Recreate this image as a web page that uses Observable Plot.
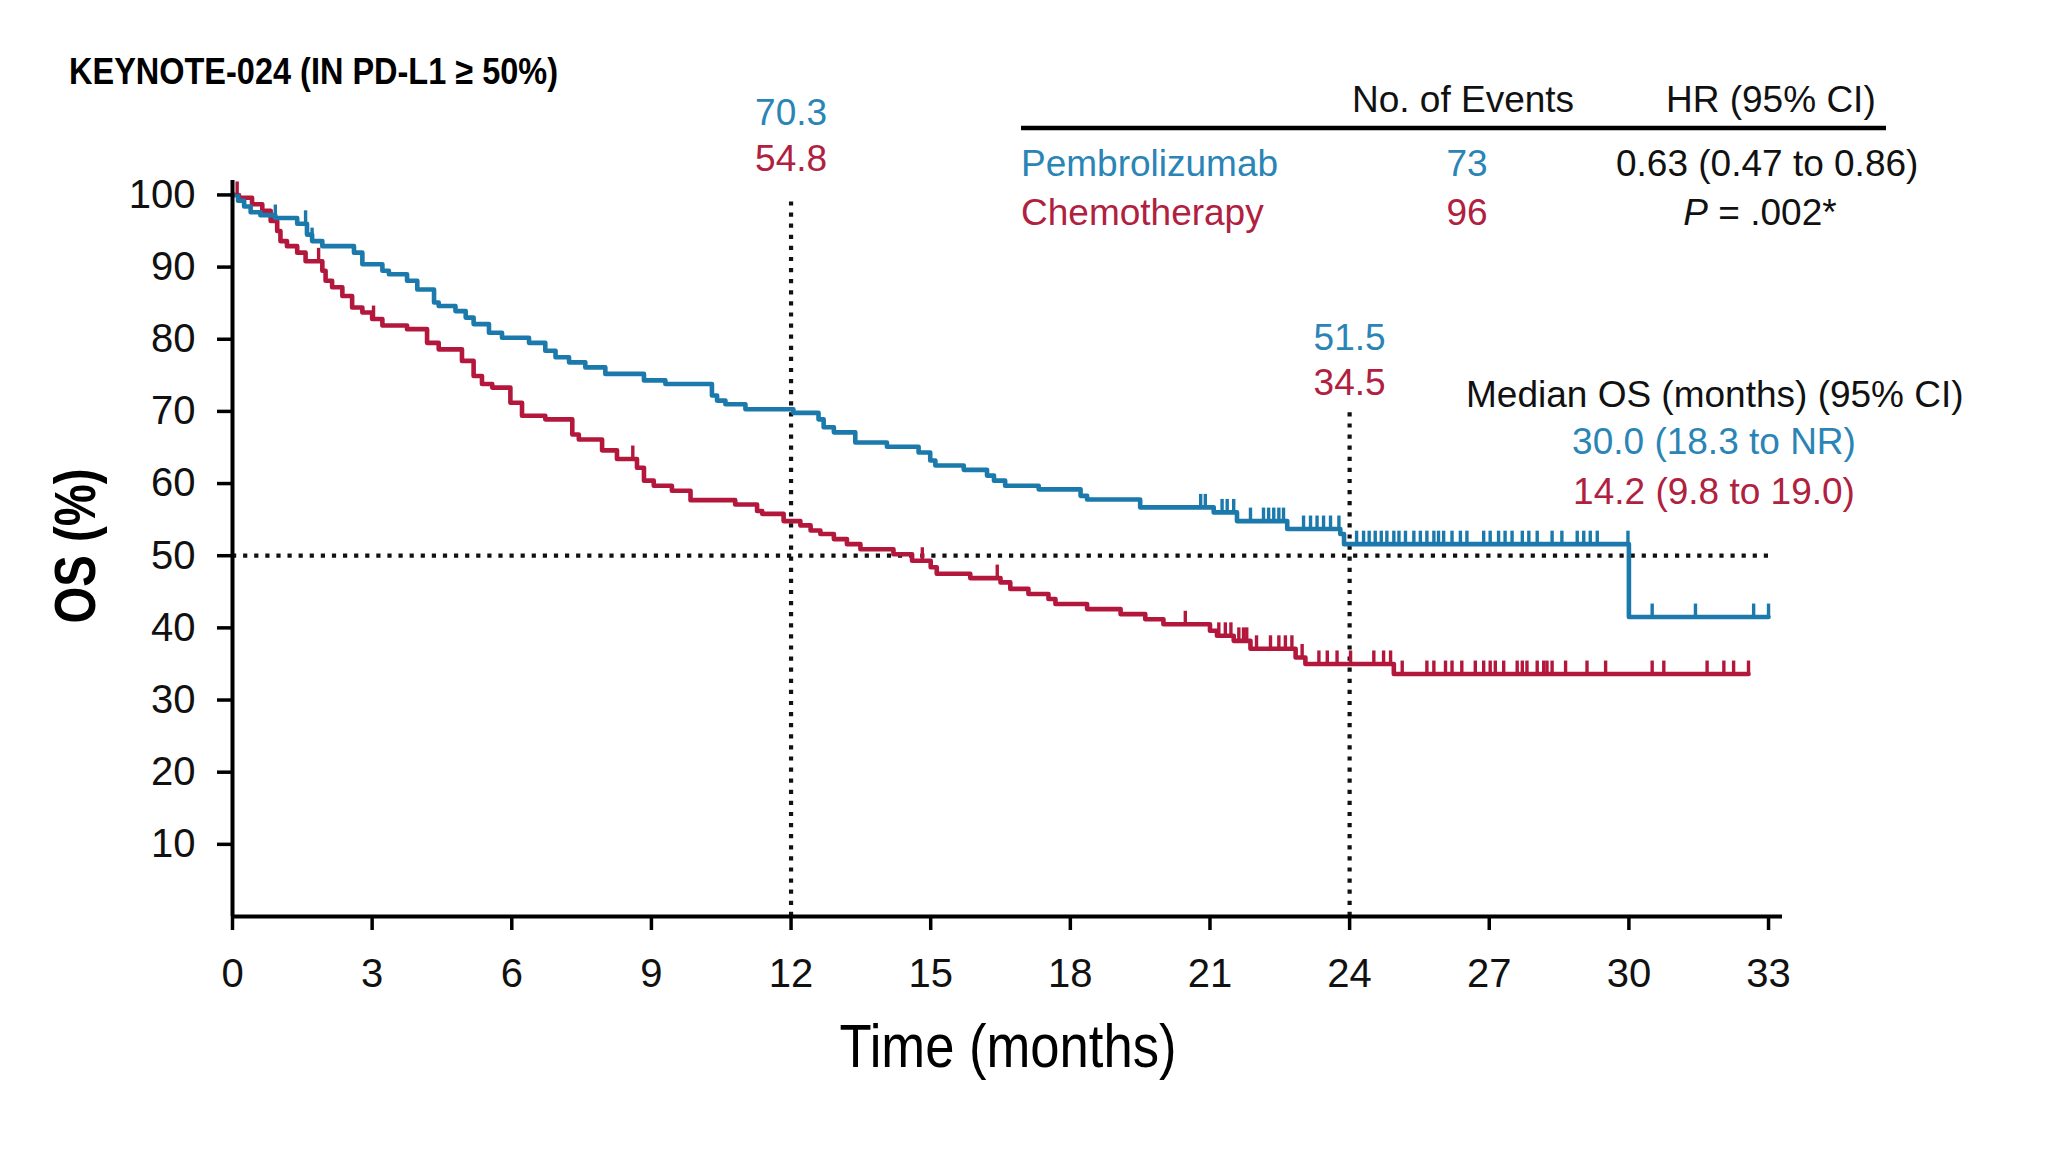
<!DOCTYPE html>
<html><head><meta charset="utf-8">
<script src="https://cdn.jsdelivr.net/npm/d3@7"></script>
<script src="https://cdn.jsdelivr.net/npm/@observablehq/plot@0.6"></script>
<style>
html,body{margin:0;padding:0;background:#fff;}
#wrap{position:relative;width:2048px;height:1152px;overflow:hidden;background:#fff;}
#wrap svg{position:absolute;left:0;top:0;}
</style></head><body><div id="wrap"></div>
<script>
// ---- data ----
const pembroTime = [0,0.12,0.25,0.39,0.6,0.92,1.39,1.60,1.71,1.93,2.61,2.79,3.22,3.36,3.75,3.97,4.33,4.43,4.79,5.01,5.18,5.51,5.79,6.37,6.72,6.94,7.23,7.58,8.01,8.84,9.30,10.30,10.41,10.59,11.02,12.05,12.59,12.70,12.92,13.38,14.06,14.74,14.99,15.10,15.71,16.21,16.36,16.60,17.32,18.22,18.36,19.50,21.08,21.58,22.66,23.80,23.88,30.0,33.0];
const pembroSurv = [100,99.2,98.4,97.6,97.2,96.8,96.0,94.5,93.6,92.9,92.0,90.4,89.5,89.0,88.1,86.9,85.1,84.6,83.9,83.0,82.1,80.9,80.2,79.5,78.4,77.5,76.8,76.1,75.2,74.3,73.8,72.2,71.5,71.0,70.3,69.8,68.9,67.8,67.1,65.7,65.1,64.3,63.2,62.5,61.9,61.1,60.4,59.7,59.2,58.3,57.8,56.7,56.0,54.8,53.7,53.0,51.6,41.5,41.5];
const chemoTime = [0,0.14,0.42,0.64,0.82,0.96,1.03,1.17,1.39,1.57,1.93,2.0,2.14,2.36,2.57,2.79,3.0,3.22,3.75,4.18,4.43,4.93,5.18,5.36,5.58,5.97,6.22,6.72,7.30,7.44,7.94,8.26,8.69,8.84,9.05,9.44,9.84,10.80,11.27,11.38,11.84,12.2,12.42,12.63,12.92,13.20,13.49,14.2,14.6,15.0,15.13,15.85,16.5,16.71,17.1,17.53,17.68,18.36,19.08,19.61,20.0,21.0,21.15,21.51,21.87,22.84,23.05,24.95,32.57];
const chemoSurv = [100,99.6,98.7,97.8,96.4,95.0,93.6,92.9,92.0,90.8,89.5,88.1,87.2,86.0,84.4,83.7,82.8,81.9,81.4,79.5,78.6,77.0,74.9,73.8,73.3,71.2,69.4,68.9,66.8,66.1,64.6,63.4,62.2,60.4,59.7,59.0,57.7,57.1,56.2,55.8,54.8,54.2,53.5,53.0,52.3,51.6,50.9,50.2,49.3,48.4,47.5,46.9,46.3,45.4,44.7,44.0,43.3,42.6,41.9,41.2,40.5,39.6,38.9,38.2,37.1,35.9,35.0,33.6,33.6];
const pembroCensor = [0.92,1.57,1.71,20.8,20.9,21.26,21.37,21.51,21.87,22.15,22.26,22.37,22.48,22.58,23.01,23.16,23.3,23.44,23.59,23.77,24.15,24.3,24.42,24.55,24.68,24.8,24.95,25.06,25.2,25.38,25.52,25.66,25.81,25.91,26.02,26.2,26.38,26.52,26.88,27.02,27.2,27.34,27.49,27.71,27.85,28.03,28.35,28.56,28.89,29.03,29.17,29.32,29.98,30.5,31.43,32.68,33.0];
const chemoCensor = [0.1,1.85,3.03,8.6,14.82,16.43,20.47,21.19,21.33,21.45,21.62,21.72,21.79,22.0,22.3,22.48,22.62,22.76,22.98,23.34,23.52,23.73,24.02,24.52,24.73,24.88,25.13,25.66,25.81,26.06,26.2,26.41,26.7,26.88,27.02,27.13,27.31,27.6,27.71,27.81,28.03,28.17,28.24,28.35,28.64,29.1,29.5,30.5,30.75,31.68,32.04,32.25,32.57];
const xTicks = [0,3,6,9,12,15,18,21,24,27,30,33];
const yTicks = [10,20,30,40,50,60,70,80,90,100];
const landmarkTime = [12,24];
const landmarkTop = [100,70];
const pembroLandmark = ["70.3","51.5"];
const chemoLandmark = ["54.8","34.5"];
const medianLevel = [50];
const armNames = ["Pembrolizumab","Chemotherapy"];
const armEvents = ["73","96"];

// ---- styling ----
const BLUE = "#1b7aab", RED = "#b3183c";
const BLUE_T = "#2a85b6", RED_T = "#b0203f";
const FONT = "'Liberation Sans', Arial, Helvetica, sans-serif";
// label lift above the top of each landmark rule, in pixels [blue, red]
const liftBlue = [82, 73], liftRed = [36, 28];

const toRows = (T, S) => T.map((t, i) => ({t, s: S[i]}));
const survAt = (T, S, t) => S[Math.max(0, d3.bisectRight(T, t) - 1)];
const pembroRows = toRows(pembroTime, pembroSurv);
const chemoRows = toRows(chemoTime, chemoSurv);
const pembroTicks = pembroCensor.map(t => ({t, s: survAt(pembroTime, pembroSurv, t)}));
const chemoTicks = chemoCensor.map(t => ({t, s: survAt(chemoTime, chemoSurv, t)}));
const landmarks = landmarkTime.map((t, i) => ({t, top: landmarkTop[i], p: pembroLandmark[i], c: chemoLandmark[i]}));

const dotted = {stroke: "#111", strokeWidth: 4.2, strokeDasharray: "4.2 6.9"};

const labelMarks = landmarks.flatMap((d, i) => [
  Plot.text([d], {x: "t", y: "top", text: "p", dy: -liftBlue[i], fill: BLUE_T, fontSize: 37}),
  Plot.text([d], {x: "t", y: "top", text: "c", dy: -liftRed[i], fill: RED_T, fontSize: 37})
]);

const chart = Plot.plot({
  width: 2048, height: 1152,
  marginLeft: 232, marginRight: 266, marginTop: 180, marginBottom: 236,
  x: {domain: [0, 33.3]},
  y: {domain: [0, 102]},
  style: {fontFamily: FONT, background: "transparent", color: "#111"},
  marks: [
    Plot.ruleY(medianLevel, {x1: 0, x2: 33, ...dotted}),
    Plot.ruleX(landmarks, {x: "t", y1: 0, y2: "top", ...dotted}),
    Plot.line(chemoRows, {x: "t", y: "s", curve: "step-after", stroke: RED, strokeWidth: 4.6}),
    Plot.line(pembroRows, {x: "t", y: "s", curve: "step-after", stroke: BLUE, strokeWidth: 4.6}),
    Plot.ruleX(chemoTicks, {x: "t", y1: "s", y2: d => d.s + 1.8, stroke: RED, strokeWidth: 3.4}),
    Plot.ruleX(pembroTicks, {x: "t", y1: "s", y2: d => d.s + 1.8, stroke: BLUE, strokeWidth: 3.4}),
    Plot.axisX({ticks: xTicks, tickSize: 14, tickPadding: 28, fontSize: 40, label: null, stroke: "#000", strokeWidth: 3.5, fill: "#111"}),
    Plot.axisY({ticks: yTicks, tickSize: 15, tickPadding: 22, fontSize: 40, label: null, stroke: "#000", strokeWidth: 3.5, fill: "#111"}),
    Plot.ruleX([0], {stroke: "#000", strokeWidth: 4}),
    Plot.ruleY([0], {stroke: "#000", strokeWidth: 4}),
    ...labelMarks
  ]
});
const wrap = document.getElementById("wrap");
wrap.appendChild(chart);

// ---- overlay: title, table, median box, axis titles ----
const ov = d3.select(wrap).append("svg").attr("width", 2048).attr("height", 1152)
  .style("font-family", FONT).style("pointer-events", "none");
const txt = (x, y, s, o = {}) => {
  const t = ov.append("text").attr("x", x).attr("y", y).text(s)
    .attr("font-size", o.size || 37).attr("fill", o.fill || "#111")
    .attr("text-anchor", o.anchor || "start");
  if (o.weight) t.attr("font-weight", o.weight);
  if (o.len) t.attr("textLength", o.len).attr("lengthAdjust", "spacingAndGlyphs");
  if (o.transform) t.attr("transform", o.transform);
  return t;
};
txt(69, 84, "KEYNOTE-024 (IN PD-L1 ≥ 50%)", {size: 37, weight: "bold", len: 489, fill: "#000"});

txt(1352, 112, "No. of Events");
txt(1666, 112, "HR (95% CI)");
ov.append("line").attr("x1", 1021).attr("x2", 1886).attr("y1", 128).attr("y2", 128)
  .attr("stroke", "#000").attr("stroke-width", 4.5);
txt(1021, 176, armNames[0], {fill: BLUE_T});
txt(1467, 176, armEvents[0], {fill: BLUE_T, anchor: "middle"});
txt(1616, 176, "0.63 (0.47 to 0.86)");
txt(1021, 225, armNames[1], {fill: RED_T});
txt(1467, 225, armEvents[1], {fill: RED_T, anchor: "middle"});
const pv = txt(1760, 225, "", {anchor: "middle"});
pv.append("tspan").attr("font-style", "italic").text("P");
pv.append("tspan").text(" = .002*");

txt(1466, 407, "Median OS (months) (95% CI)");
txt(1714, 454, "30.0 (18.3 to NR)", {fill: BLUE_T, anchor: "middle"});
txt(1714, 504, "14.2 (9.8 to 19.0)", {fill: RED_T, anchor: "middle"});

txt(1008, 1067, "Time (months)", {size: 61, anchor: "middle", len: 337, fill: "#000"});
txt(0, 0, "OS (%)", {size: 58, weight: "bold", anchor: "middle", len: 155, fill: "#000", transform: "translate(95,546) rotate(-90)"});
</script></body></html>
